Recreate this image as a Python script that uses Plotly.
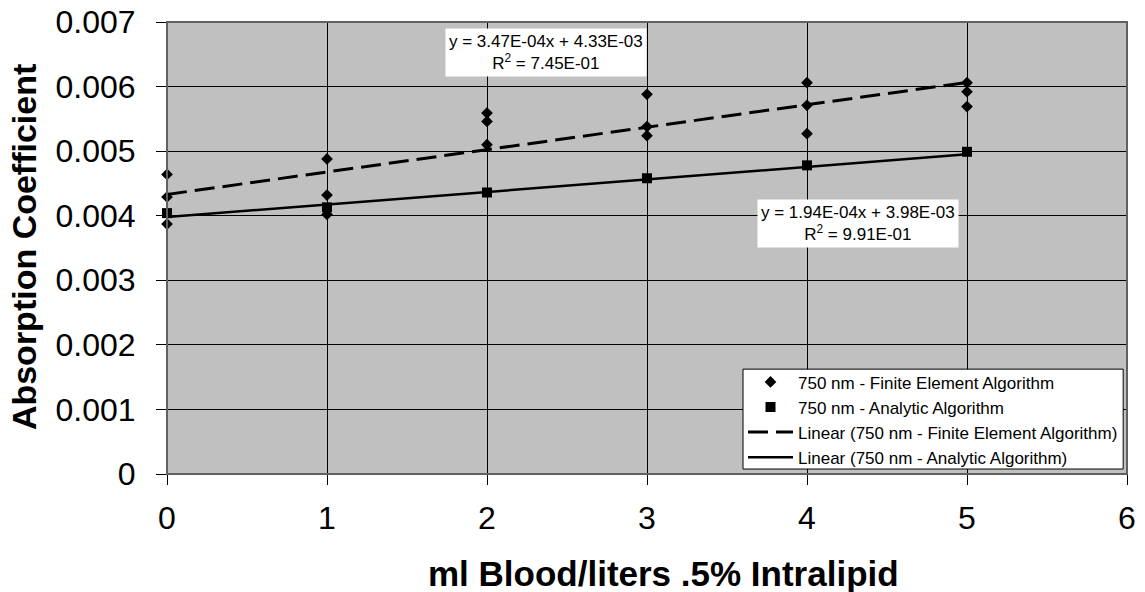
import plotly.graph_objects as go

# ---- data ----
fe_x = [0, 0, 0, 1, 1, 1, 2, 2, 2, 3, 3, 3, 4, 4, 4, 5, 5, 5]
fe_y = [0.00464, 0.00429, 0.00387,
        0.00488, 0.00432, 0.00402,
        0.00559, 0.00546, 0.00510,
        0.00588, 0.00538, 0.00524,
        0.00606, 0.00571, 0.00527,
        0.00606, 0.00592, 0.00569]
an_x = [0, 1, 2, 3, 4, 5]
an_y = [0.00404, 0.00413, 0.00436, 0.00458, 0.00478, 0.00499]

fe_fit = {"slope": 3.47e-4, "intercept": 4.33e-3, "r2": 7.45e-1}
an_fit = {"slope": 1.94e-4, "intercept": 3.98e-3, "r2": 9.91e-1}
fit_x = [0, 5]

x_ticks = [0, 1, 2, 3, 4, 5, 6]
y_ticks = [0, 0.001, 0.002, 0.003, 0.004, 0.005, 0.006, 0.007]
y_ticktext = ["0", "0.001", "0.002", "0.003", "0.004", "0.005", "0.006", "0.007"]

name_fe = "750 nm - Finite Element Algorithm"
name_an = "750 nm - Analytic Algorithm"

FONT = "Arial, Liberation Sans, sans-serif"

fig = go.Figure()

fig.add_trace(go.Scatter(
    x=fit_x, y=[fe_fit["intercept"] + fe_fit["slope"] * v for v in fit_x],
    mode="lines", name="Linear (" + name_fe + ")",
    line=dict(color="black", width=3, dash="20px,8px"), legendrank=3))
fig.add_trace(go.Scatter(
    x=fit_x, y=[an_fit["intercept"] + an_fit["slope"] * v for v in fit_x],
    mode="lines", name="Linear (" + name_an + ")",
    line=dict(color="black", width=2.5), legendrank=4))
fig.add_trace(go.Scatter(
    x=fe_x, y=fe_y, mode="markers", name=name_fe, cliponaxis=False,
    marker=dict(symbol="diamond", size=9, color="black"), legendrank=1))
fig.add_trace(go.Scatter(
    x=an_x, y=an_y, mode="markers", name=name_an, cliponaxis=False,
    marker=dict(symbol="square", size=10, color="black"), legendrank=2))


def eq_text(f):
    return ("y = %.2Ex + %.2E<br>R<sup>2</sup> = %.2E"
            % (f["slope"], f["intercept"], f["r2"]))


fig.add_annotation(x=2.37, y=0.00652, xref="x", yref="y",
                   text=eq_text(fe_fit), showarrow=False, align="center",
                   bgcolor="white", borderpad=3,
                   font=dict(family=FONT, size=17, color="black"))
fig.add_annotation(x=4.32, y=0.003886, xref="x", yref="y",
                   text=eq_text(an_fit), showarrow=False, align="center",
                   bgcolor="white", borderpad=3,
                   font=dict(family=FONT, size=17, color="black"))

# axis titles
fig.add_annotation(x=0.517, y=-0.221, xref="paper", yref="paper",
                   text="<b>ml Blood/liters .5% Intralipid</b>", showarrow=False,
                   xanchor="center", yanchor="middle",
                   font=dict(family=FONT, size=35, color="black"))
fig.add_annotation(x=-0.1495, y=0.503, xref="paper", yref="paper",
                   text="<b>Absorption Coefficient</b>", showarrow=False,
                   textangle=-90, xanchor="center", yanchor="middle",
                   font=dict(family=FONT, size=34, color="black"))

# plot border (top/right gray)
fig.add_shape(type="rect", xref="paper", yref="paper", x0=0, y0=0, x1=1, y1=1,
              line=dict(color="#606060", width=2), layer="above")

# legend frame (drawn as a shape so its size matches the reference)
fig.add_shape(type="rect", xref="paper", yref="paper",
              x0=0.6, x1=0.996, y0=0.011, y1=0.232,
              fillcolor="white", line=dict(color="black", width=1), layer="above")

fig.update_layout(
    width=1145, height=592,
    margin=dict(l=167, r=18, t=22, b=118, autoexpand=False),
    paper_bgcolor="white", plot_bgcolor="#C0C0C0",
    font=dict(family=FONT, color="black"),
    showlegend=True,
    legend=dict(x=0.6, y=-0.003, xanchor="left", yanchor="bottom",
                bgcolor="rgba(0,0,0,0)", borderwidth=0,
                font=dict(family=FONT, size=17, color="black"),
                itemwidth=45, tracegroupgap=0),
)
fig.update_xaxes(range=[0, 6], tickvals=x_ticks, showgrid=True, automargin=False,
                 gridcolor="black", gridwidth=1, zeroline=False,
                 showline=True, linecolor="black", linewidth=1,
                 ticks="outside", ticklen=10, tickcolor="black",
                 tickfont=dict(family=FONT, size=32, color="black"),
                 ticklabelstandoff=6)
fig.update_yaxes(range=[0, 0.007], tickvals=y_ticks, ticktext=y_ticktext,
                 showgrid=True, gridcolor="black", gridwidth=1, zeroline=False,
                 automargin=False,
                 showline=True, linecolor="black", linewidth=1,
                 ticks="outside", ticklen=10, tickcolor="black",
                 tickfont=dict(family=FONT, size=32, color="black"),
                 ticklabelstandoff=14)

fig.write_html("out.html")
